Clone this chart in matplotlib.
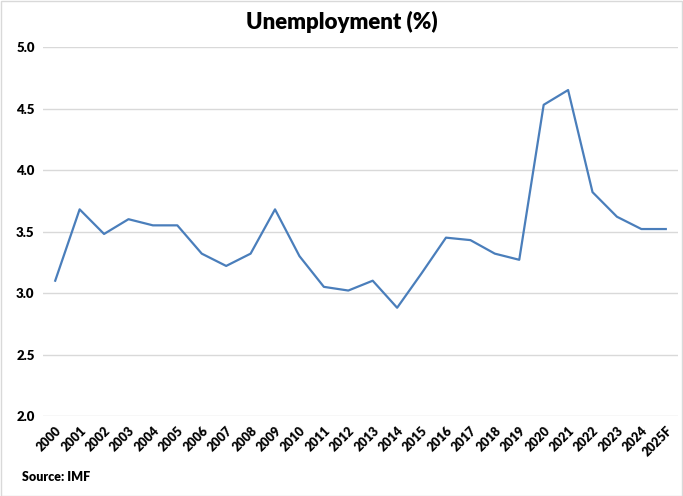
import matplotlib.pyplot as plt
import numpy as np

years = ['2000', '2001', '2002', '2003', '2004', '2005', '2006', '2007', '2008',
         '2009', '2010', '2011', '2012', '2013', '2014', '2015', '2016', '2017',
         '2018', '2019', '2020', '2021', '2022', '2023', '2024', '2025F']
unemployment = [3.10, 3.68, 3.48, 3.60, 3.55, 3.55, 3.32, 3.22, 3.32, 3.68,
                3.30, 3.05, 3.02, 3.10, 2.88, 3.16, 3.45, 3.43, 3.32, 3.27,
                4.53, 4.65, 3.82, 3.62, 3.52, 3.52]
yticks = [2.0, 2.5, 3.0, 3.5, 4.0, 4.5, 5.0]

plt.rcParams['font.family'] = ['Lato', 'DejaVu Sans']

fig = plt.figure(figsize=(6.83, 4.96), dpi=100)
ax = fig.add_axes([43 / 683, 1 - 416 / 496, 635 / 683, 369 / 496])

x = np.arange(len(years))
ax.plot(x, unemployment, color='#4A7EBB', lw=1.6)

ax.set_xlim(-0.5, len(years) - 0.5)
ax.set_ylim(2.0, 5.0)
ax.set_yticks(yticks)
ax.set_yticklabels(['%.1f' % v for v in yticks], fontsize=9.5, fontweight='heavy')
ax.set_xticks(x)
ax.set_xticklabels(years, rotation=45, ha='right', rotation_mode='anchor',
                   fontsize=9, fontweight='heavy')
ax.tick_params(length=0, pad=6)
ax.tick_params(axis='x', pad=6)
ax.grid(axis='y', color='#D9D9D9', lw=1)
ax.set_axisbelow(True)
for s in ax.spines.values():
    s.set_visible(False)

fig.text(0.5, 1 - 22 / 496, 'Unemployment (%)', ha='center', va='center',
         fontsize=16, fontweight='heavy')
fig.text(22 / 683, 1 - 477 / 496, 'Source: IMF', ha='left', va='center',
         fontsize=9, fontweight='heavy')

# light chart-area border
fig.patches.append(plt.Rectangle((0.001, 0.001), 0.997, 0.997, transform=fig.transFigure,
                                 fill=False, edgecolor='#D9D9D9', lw=1))

fig.savefig('out.png', dpi=100)
